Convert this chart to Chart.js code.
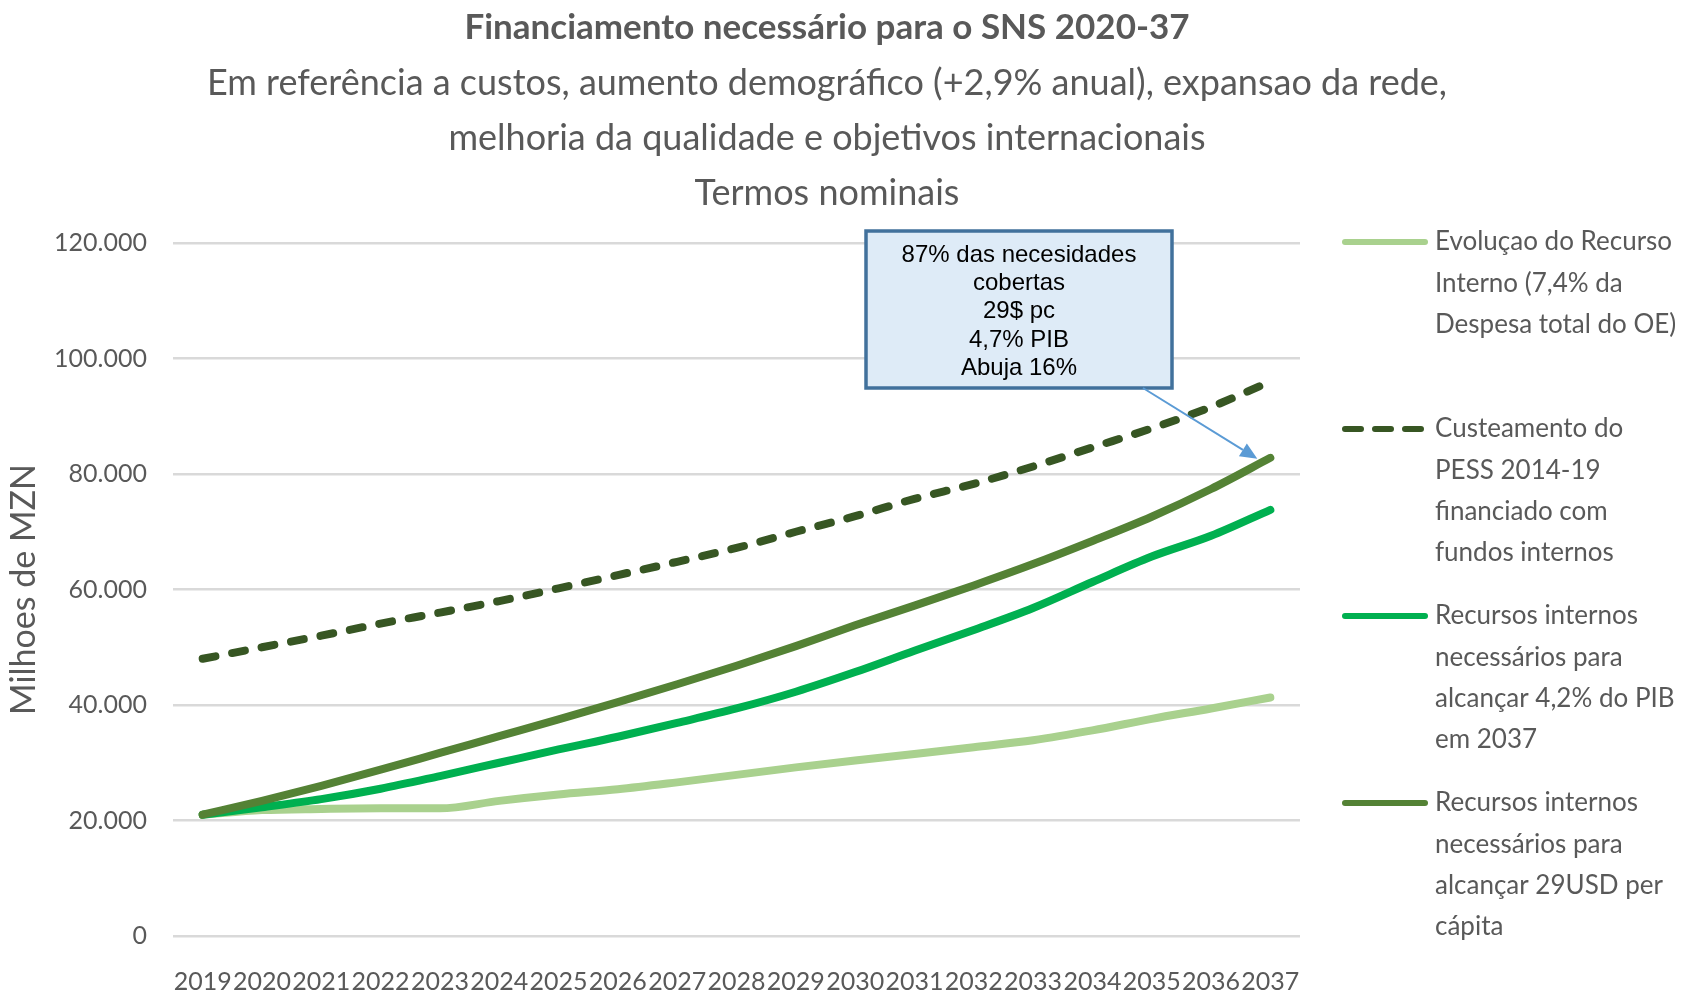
<!DOCTYPE html>
<html lang="pt">
<head>
<meta charset="UTF-8">
<title>Financiamento necessário para o SNS 2020-37</title>
<script src="https://cdn.jsdelivr.net/npm/chart.js@4.4.0/dist/chart.umd.min.js"></script>
<style>
  html, body { margin: 0; padding: 0; background: #fff; }
</style>
</head>
<body>
<canvas id="snsChart" width="1683" height="993"></canvas>
<script>
// anos da projecção
const years = ['2019', '2020', '2021', '2022', '2023', '2024', '2025', '2026', '2027', '2028',
               '2029', '2030', '2031', '2032', '2033', '2034', '2035', '2036', '2037'];

// milhoes de MZN, termos nominais
const recursoInterno = [21000, 21800, 22000, 22100, 22100, 23400, 24500, 25400, 26600, 27900,
                        29200, 30400, 31500, 32700, 33900, 35600, 37600, 39400, 41300];
const custeamentoPess = [48000, 50000, 52000, 54100, 56000, 58000, 60200, 62500, 64800, 67200,
                         70000, 72700, 75700, 78300, 81300, 84600, 87900, 91600, 96000];
const recursosPib = [21000, 22300, 23700, 25500, 27700, 30000, 32300, 34500, 36900, 39400,
                     42300, 45700, 49400, 53000, 56800, 61300, 65700, 69300, 73800];
const recursosPerCapita = [21000, 23400, 26000, 28800, 31700, 34600, 37500, 40500, 43600, 46800,
                           50200, 53800, 57200, 60700, 64400, 68400, 72600, 77400, 82800];

const legendLines = [
  ['Evoluçao do Recurso', 'Interno (7,4% da', 'Despesa total do OE)'],
  ['Custeamento do', 'PESS 2014-19', 'financiado com', 'fundos internos'],
  ['Recursos internos', 'necessários para', 'alcançar 4,2% do PIB', 'em 2037'],
  ['Recursos internos', 'necessários para', 'alcançar 29USD per', 'cápita']
];

const titleText = 'Financiamento necessário para o SNS 2020-37';
const subtitleLines = [
  'Em referência a custos, aumento demográfico (+2,9% anual), expansao da rede,',
  'melhoria da qualidade e objetivos internacionais',
  'Termos nominais'
];

const calloutLines = ['87% das necesidades', 'cobertas', '29$ pc', '4,7% PIB', 'Abuja 16%'];

const GREY = '#595959';

function thousands(v) {
  return String(v).replace(/\B(?=(\d{3})+(?!\d))/g, '.');
}

// titulo e subtitulo centrados sobre o grafico
const headerPlugin = {
  id: 'header',
  afterDraw(chart) {
    const ctx = chart.ctx;
    const cx = 827;
    ctx.save();
    ctx.fillStyle = GREY;
    ctx.textAlign = 'center';
    ctx.textBaseline = 'middle';
    ctx.font = 'bold 35px Lato';
    ctx.fillText(titleText, cx, 28);
    ctx.font = '36px Lato';
    subtitleLines.forEach((t, i) => ctx.fillText(t, cx, 83 + i * 55));
    ctx.restore();
  }
};

// legenda à direita, com texto em várias linhas
const sideLegend = {
  id: 'sideLegend',
  afterDraw(chart) {
    const { ctx, chartArea } = chart;
    const x0 = chartArea.right + 45;
    const x1 = chartArea.right + 125;
    const tx = chartArea.right + 135;
    ctx.save();
    ctx.font = '26px Lato';
    ctx.fillStyle = GREY;
    ctx.textBaseline = 'middle';
    chart.data.datasets.forEach((ds, i) => {
      const y = chartArea.top - 1 + i * 187;
      ctx.beginPath();
      ctx.strokeStyle = ds.borderColor;
      ctx.lineWidth = 6;
      ctx.lineCap = 'round';
      ctx.setLineDash(ds.borderDash ? [16, 14] : []);
      ctx.moveTo(x0, y);
      ctx.lineTo(x1, y);
      ctx.stroke();
      legendLines[i].forEach((t, k) => ctx.fillText(t, tx, y + k * 41.2));
    });
    ctx.restore();
  }
};

// caixa de texto com seta para o ultimo ponto da serie 29USD
const calloutPlugin = {
  id: 'callout',
  afterDraw(chart) {
    const { ctx, scales } = chart;
    const last = years.length - 1;
    const tipX = scales.x.getPixelForValue(last) - 13;
    const tipY = scales.y.getPixelForValue(recursosPerCapita[last]) + 1;
    const box = { left: 866, top: 231, width: 306, height: 157 };
    const sx = 1143, sy = box.top + box.height;

    ctx.save();
    ctx.fillStyle = '#DEEBF7';
    ctx.strokeStyle = '#41719C';
    ctx.lineWidth = 3.5;
    ctx.fillRect(box.left, box.top, box.width, box.height);
    ctx.strokeRect(box.left, box.top, box.width, box.height);

    ctx.fillStyle = '#000';
    ctx.font = '24px "Liberation Sans", Arial, sans-serif';
    ctx.textAlign = 'center';
    ctx.textBaseline = 'middle';
    const cx = box.left + box.width / 2;
    calloutLines.forEach((t, i) => ctx.fillText(t, cx, 255 + i * 28.4));

    const ang = Math.atan2(tipY - sy, tipX - sx);
    const headLen = 17, headW = 7.5;
    const bx = tipX - headLen * Math.cos(ang);
    const by = tipY - headLen * Math.sin(ang);
    ctx.strokeStyle = '#5B9BD5';
    ctx.lineWidth = 2;
    ctx.beginPath();
    ctx.moveTo(sx, sy);
    ctx.lineTo(bx, by);
    ctx.stroke();
    ctx.fillStyle = '#5B9BD5';
    ctx.beginPath();
    ctx.moveTo(tipX, tipY);
    ctx.lineTo(bx + headW * Math.sin(ang), by - headW * Math.cos(ang));
    ctx.lineTo(bx - headW * Math.sin(ang), by + headW * Math.cos(ang));
    ctx.closePath();
    ctx.fill();
    ctx.restore();
  }
};

function lineSet(label, data, color, order, dashed) {
  return {
    label,
    data,
    borderColor: color,
    backgroundColor: color,
    borderWidth: 8,
    borderDash: dashed ? [13, 17] : undefined,
    borderCapStyle: 'round',
    borderJoinStyle: 'round',
    pointRadius: 0,
    cubicInterpolationMode: 'monotone',
    fill: false,
    order
  };
}

new Chart(document.getElementById('snsChart'), {
  type: 'line',
  data: {
    labels: years,
    datasets: [
      lineSet(legendLines[0].join(' '), recursoInterno, '#A9D18E', 4, false),
      lineSet(legendLines[1].join(' '), custeamentoPess, '#375623', 3, true),
      lineSet(legendLines[2].join(' '), recursosPib, '#00B050', 2, false),
      lineSet(legendLines[3].join(' '), recursosPerCapita, '#548235', 1, false)
    ]
  },
  options: {
    responsive: false,
    animation: false,
    devicePixelRatio: 1,
    layout: { padding: { top: 243, right: 383, left: 0, bottom: 0 } },
    plugins: {
      legend: { display: false },
      title: { display: false },
      tooltip: { enabled: false }
    },
    scales: {
      x: {
        offset: true,
        grid: { display: false },
        border: { display: false },
        ticks: {
          autoSkip: false,
          maxRotation: 0,
          minRotation: 0,
          padding: 23,
          color: GREY,
          font: { family: 'Lato', size: 25 }
        },
        afterFit(scale) { scale.height = 57; }
      },
      y: {
        min: 0,
        max: 120000,
        border: { display: false },
        grid: { color: '#D9D9D9', lineWidth: 2.5, drawTicks: false },
        ticks: {
          stepSize: 20000,
          padding: 26,
          color: GREY,
          font: { family: 'Lato', size: 25 },
          callback: v => thousands(v)
        },
        title: {
          display: true,
          text: 'Milhoes de MZN',
          color: GREY,
          font: { family: 'Lato', size: 34 },
          padding: { top: 4, bottom: 0 }
        },
        afterFit(scale) { scale.width = 173; }
      }
    }
  },
  plugins: [headerPlugin, sideLegend, calloutPlugin]
});
</script>
</body>
</html>
